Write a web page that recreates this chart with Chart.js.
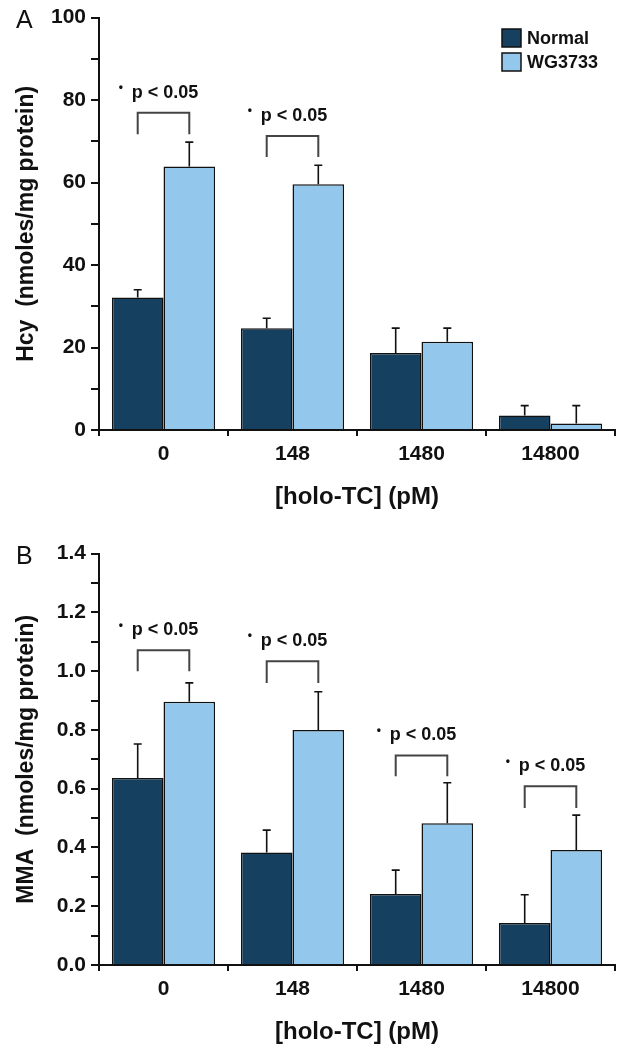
<!DOCTYPE html>
<html>
<head>
<meta charset="utf-8">
<script src="https://cdn.jsdelivr.net/npm/chart.js@4"></script>
<style>
  body { margin: 0; background: #fff; }
  canvas { position: absolute; left: 0; }
  #chartA { top: 0; }
  #chartB { top: 536px; }
</style>
</head>
<body>
<canvas id="chartA" width="626" height="536"></canvas>
<canvas id="chartB" width="626" height="514"></canvas>
<script>
const categories = ["0", "148", "1480", "14800"];
const seriesNames = ["Normal", "WG3733"];

// Panel A: Hcy
const hcyNormal = [32.1, 24.7, 18.7, 3.5];
const hcyNormalErr = [1.9, 2.4, 6.0, 2.4];
const hcyWG = [63.9, 59.6, 21.4, 1.6];
const hcyWGErr = [5.9, 4.6, 3.3, 4.3];
const hcyBracketTop = [76.9, 71.3, null, null];
const hcyBracketLeg = [71.7, 66.2, null, null];

// Panel B: MMA
const mmaNormal = [0.636, 0.383, 0.242, 0.143];
const mmaNormalErr = [0.116, 0.076, 0.081, 0.096];
const mmaWG = [0.896, 0.80, 0.482, 0.391];
const mmaWGErr = [0.064, 0.13, 0.138, 0.119];
const mmaBracketTop = [1.071, 1.034, 0.713, 0.608];
const mmaBracketLeg = [1.0, 0.96, 0.642, 0.534];

const FONT = "'Liberation Sans', Arial, sans-serif";
const darkBlue = "#16405f";
const lightBlue = "#93c8ec";

// draws error bars, significance brackets, legend and panel letter
const extrasPlugin = {
  id: "extras",
  afterDatasetsDraw(chart, args, opts) {
    const ctx = chart.ctx;
    const y = chart.scales.y;
    ctx.save();

    // error bars (upper only)
    opts.errors.forEach((errs, di) => {
      const meta = chart.getDatasetMeta(di);
      meta.data.forEach((bar, i) => {
        const v = chart.data.datasets[di].data[i];
        const top = y.getPixelForValue(v + errs[i]);
        ctx.strokeStyle = "#111";
        ctx.lineWidth = 1.6;
        ctx.beginPath();
        ctx.moveTo(bar.x, bar.y);
        ctx.lineTo(bar.x, top);
        ctx.moveTo(bar.x - 4, top);
        ctx.lineTo(bar.x + 4, top);
        ctx.stroke();
      });
    });

    // brackets + p labels
    const m0 = chart.getDatasetMeta(0), m1 = chart.getDatasetMeta(1);
    opts.bracketTop.forEach((bt, i) => {
      if (bt == null) return;
      const x0 = m0.data[i].x, x1 = m1.data[i].x;
      const yt = y.getPixelForValue(bt);
      const yl = y.getPixelForValue(opts.bracketLeg[i]);
      ctx.strokeStyle = "#444";
      ctx.lineWidth = 2;
      ctx.beginPath();
      ctx.moveTo(x0, yl);
      ctx.lineTo(x0, yt);
      ctx.lineTo(x1, yt);
      ctx.lineTo(x1, yl);
      ctx.stroke();
      ctx.fillStyle = "#111";
      ctx.textBaseline = "middle";
      ctx.textAlign = "left";
      ctx.font = "bold 18px " + FONT;
      ctx.fillText("p < 0.05", x0 - 6, yt - 20);
      ctx.font = "bold 12px " + FONT;
      ctx.fillText("•", x0 - 19, yt - 25);
    });

    // panel letter
    ctx.font = "25px " + FONT;
    ctx.fillStyle = "#111";
    ctx.textAlign = "left";
    ctx.textBaseline = "middle";
    ctx.fillText(opts.letter, 16, chart.chartArea.top + 4);

    // legend
    if (opts.legend) {
      chart.data.datasets.forEach((ds, di) => {
        const bx = 502, by = 29 + di * 24;
        ctx.fillStyle = ds.backgroundColor;
        ctx.fillRect(bx, by, 19, 18);
        ctx.strokeStyle = "#111";
        ctx.lineWidth = 1.5;
        ctx.strokeRect(bx, by, 19, 18);
        ctx.fillStyle = "#111";
        ctx.font = "bold 18px " + FONT;
        ctx.fillText(ds.label, bx + 25, by + 10);
      });
    }
    ctx.restore();
  }
};

function makeChart(id, cfg) {
  return new Chart(document.getElementById(id), {
    type: "bar",
    data: {
      labels: categories,
      datasets: [
        { label: seriesNames[0], data: cfg.normal, backgroundColor: darkBlue, borderColor: "#111", borderWidth: 1.5 },
        { label: seriesNames[1], data: cfg.wg, backgroundColor: lightBlue, borderColor: "#111", borderWidth: 1.5 }
      ]
    },
    options: {
      responsive: false,
      animation: false,
      categoryPercentage: 0.8,
      barPercentage: 1.0,
      layout: { padding: { left: 0, right: 11, top: cfg.padTop, bottom: 0 } },
      plugins: {
        legend: { display: false },
        tooltip: { enabled: false },
        extras: {
          errors: [cfg.normalErr, cfg.wgErr],
          bracketTop: cfg.bracketTop,
          bracketLeg: cfg.bracketLeg,
          letter: cfg.letter,
          legend: cfg.legend
        }
      },
      scales: {
        x: {
          afterFit: (s) => { s.height = cfg.xHeight; },
          grid: { drawOnChartArea: false, offset: true, tickLength: 6, color: "#111", lineWidth: 2 },
          border: { color: "#111", width: 2 },
          ticks: { color: "#111", padding: 6, font: { family: FONT, size: 21, weight: "bold" } },
          title: {
            display: true, text: "[holo-TC] (pM)", color: "#111",
            font: { family: FONT, size: 24, weight: "bold" }, padding: { top: 0, bottom: cfg.xTitlePad }
          }
        },
        y: {
          min: cfg.min, max: cfg.max,
          afterFit: (s) => { s.width = 99; },
          grid: { drawOnChartArea: false, tickLength: 8, color: "#111", lineWidth: 2 },
          border: { color: "#111", width: 2 },
          ticks: {
            stepSize: cfg.step, color: "#111", padding: 5,
            font: { family: FONT, size: 21, weight: "bold" },
            callback: cfg.tickFmt
          },
          title: {
            display: true, text: cfg.yTitle, color: "#111",
            font: { family: FONT, size: 23, weight: "bold" }, padding: { top: 13, bottom: 0 }
          }
        }
      }
    },
    plugins: [extrasPlugin]
  });
}

makeChart("chartA", {
  normal: hcyNormal, wg: hcyWG, normalErr: hcyNormalErr, wgErr: hcyWGErr,
  bracketTop: hcyBracketTop, bracketLeg: hcyBracketLeg,
  min: 0, max: 100, step: 10,
  tickFmt: (v) => (Math.round(v) % 20 === 0 ? v : ""),
  yTitle: "Hcy  (nmoles/mg protein)",
  padTop: 15, xHeight: 106, xTitlePad: 24, letter: "A", legend: true
});

makeChart("chartB", {
  normal: mmaNormal, wg: mmaWG, normalErr: mmaNormalErr, wgErr: mmaWGErr,
  bracketTop: mmaBracketTop, bracketLeg: mmaBracketLeg,
  min: 0, max: 1.4, step: 0.1,
  tickFmt: (v) => (Math.round(v * 10) % 2 === 0 ? v.toFixed(1) : ""),
  yTitle: "MMA  (nmoles/mg protein)",
  padTop: 16, xHeight: 85, xTitlePad: 3, letter: "B", legend: false
});
</script>
</body>
</html>
